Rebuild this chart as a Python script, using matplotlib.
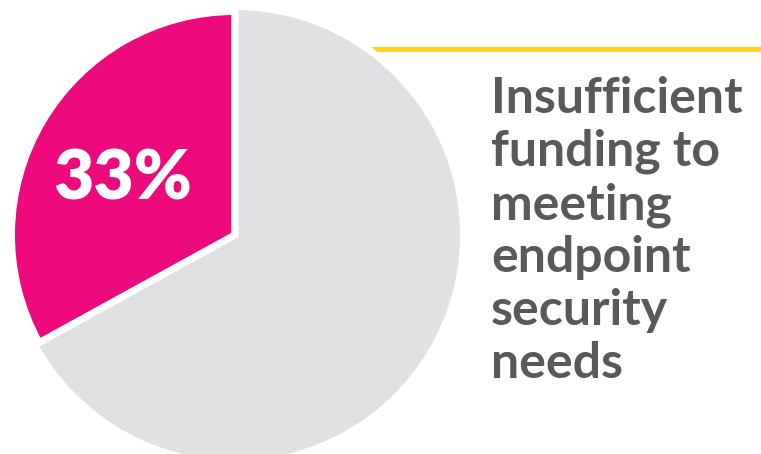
import matplotlib
matplotlib.use('Agg')
import matplotlib.pyplot as plt

# Share of respondents citing the issue
shares = [33, 67]
colors = ['#ec0a7d', '#e0e1e3']
pct_label = '33%'
caption_lines = ['Insufficient', 'funding to', 'meeting', 'endpoint', 'security', 'needs']

W, H = 761, 454
fig = plt.figure(figsize=(W / 100, H / 100), dpi=100)
ax = fig.add_axes([0, 0, 1, 1])

cx, cy = 235, H - 235

# yellow accent rule behind the pie
ax.plot([330, W], [H - 48.5, H - 48.5], color='#ffd02a', lw=3.6,
        solid_capstyle='butt', zorder=1)

wedges, _ = ax.pie(shares, colors=colors, startangle=90, counterclock=True,
                   center=(cx, cy), radius=228.5, frame=True,
                   wedgeprops=dict(edgecolor='white', linewidth=5))
wedges[0].set_radius(223.5)
for w in wedges:
    w.set_zorder(2)
ax.set_xlim(0, W)
ax.set_ylim(0, H)
ax.axis('off')

ax.text(53, H - 199, pct_label, color='white', fontsize=50,
        fontfamily='Lato', fontweight='heavy', ha='left', va='baseline', zorder=3)

for i, line in enumerate(caption_lines):
    ax.text(491, H - 113 - 53 * i, line, color='#58595b', fontsize=36,
            fontfamily='Lato', fontweight='bold', ha='left', va='baseline')

fig.savefig('out.png', dpi=100)
